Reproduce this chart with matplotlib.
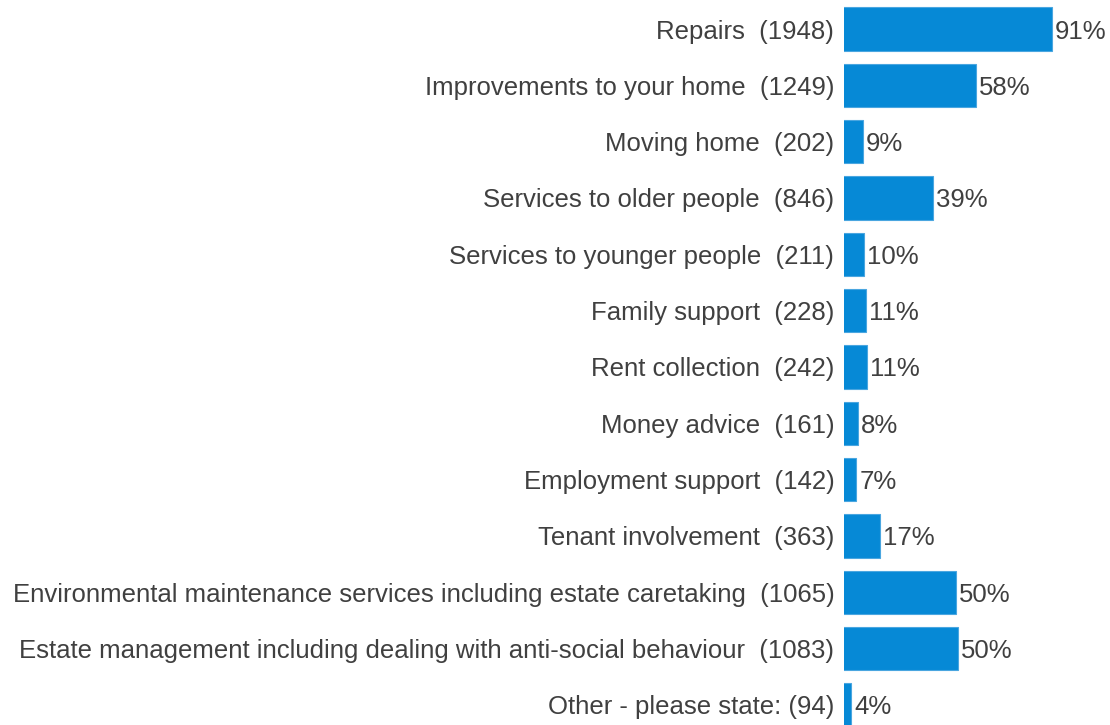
import matplotlib.pyplot as plt

categories = ['Repairs', 'Improvements to your home', 'Moving home',
              'Services to older people', 'Services to younger people',
              'Family support', 'Rent collection', 'Money advice',
              'Employment support', 'Tenant involvement',
              'Environmental maintenance services including estate caretaking',
              'Estate management including dealing with anti-social behaviour',
              'Other - please state:']
counts = [1948, 1249, 202, 846, 211, 228, 242, 161, 142, 363, 1065, 1083, 94]
percents = [91, 58, 9, 39, 10, 11, 11, 8, 7, 17, 50, 50, 4]

plt.rcParams['font.family'] = ['Liberation Sans', 'DejaVu Sans']
txt_color = '#404040'
bar_color = '#0689d6'
fs = 18.5

fig = plt.figure(figsize=(11.1, 7.25), dpi=100)
ax = fig.add_axes([844 / 1110, 0, 266 / 1110, 1])

ypos = list(range(len(categories)))
ax.barh(ypos, counts, height=0.77, color=bar_color, edgecolor='#4aa6e0', linewidth=0.8)

for y, c, p in zip(ypos, counts, percents):
    ax.annotate('%d%%' % p, (c, y), xytext=(2.2, 0), textcoords='offset points',
                va='center_baseline', ha='left', fontsize=fs, color=txt_color)

labels = []
for cat, c in zip(categories, counts):
    if cat.endswith(':'):
        labels.append('%s (%d)' % (cat, c))
    else:
        labels.append('%s  (%d)' % (cat, c))
ax.set_yticks(ypos)
ax.set_yticklabels(labels, fontsize=fs, color=txt_color)
ax.tick_params(axis='y', length=0, pad=7)
ax.set_xticks([])

# bars look clipped slightly at the left in the original
ax.set_xlim(29.5, 29.5 + 266 / 0.1084)
ax.set_ylim(12.356, -0.515)
for s in ax.spines.values():
    s.set_visible(False)

fig.savefig('out.png', dpi=100)
